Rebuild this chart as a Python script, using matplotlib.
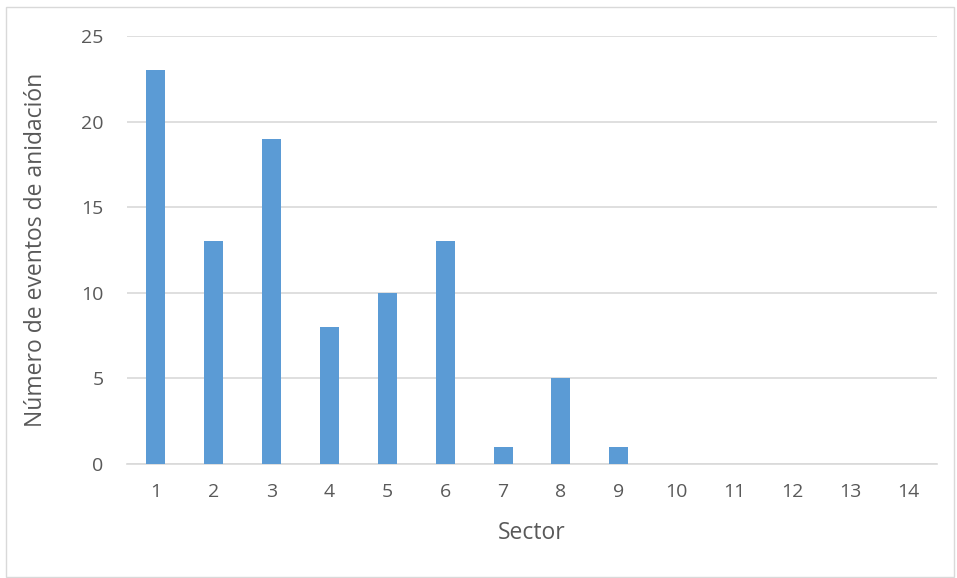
import matplotlib
matplotlib.use("Agg")
import matplotlib.pyplot as plt
from matplotlib.patches import Rectangle

sectors = [str(i) for i in range(1, 15)]
events = [23, 13, 19, 8, 10, 13, 1, 5, 1, 0, 0, 0, 0, 0]
yticks = [0, 5, 10, 15, 20, 25]

plt.rcParams['font.family'] = ['Open Sans', 'DejaVu Sans']
txt = '#595959'

fig = plt.figure(figsize=(9.57, 5.78), dpi=100)
ax = fig.add_axes([127/957, 1-464/578, (937-127)/957, (464-36)/578])

x = list(range(len(sectors)))
ax.bar(x, events, width=0.33, color='#5B9BD5', zorder=3)
ax.set_xlim(-0.5, len(sectors)-0.5)
ax.set_ylim(0, 25)
ax.set_yticks(yticks)
ax.set_xticks(x)
ax.set_xticklabels(sectors)
ax.grid(axis='y', color='#D9D9D9', linewidth=1.2, zorder=0)
for s in ['top', 'right', 'left']:
    ax.spines[s].set_visible(False)
ax.spines['bottom'].set_color('#D9D9D9')
ax.spines['bottom'].set_linewidth(1.2)
ax.tick_params(axis='both', length=0, labelsize=14, colors=txt)
ax.tick_params(axis='x', pad=14)
ax.tick_params(axis='y', pad=17)
ax.set_xlabel('Sector', fontsize=16.5, color=txt, labelpad=14)
ax.set_ylabel('Número de eventos de anidación', fontsize=16.5, color=txt, labelpad=24)

fig.patches.append(Rectangle((6/957, 0.002), 1-6/957-0.003, 1-7/578-0.002,
                             transform=fig.transFigure, fill=False,
                             edgecolor='#D9D9D9', linewidth=1))
fig.savefig('out.png', dpi=100)
